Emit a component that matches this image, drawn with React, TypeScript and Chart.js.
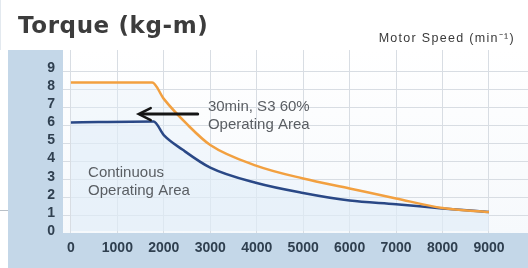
import React, { useEffect, useRef } from "react";
import { Chart, registerables } from "chart.js";

Chart.register(...registerables);

// ---- data ----
const speedTicks = [0, 1000, 2000, 3000, 4000, 5000, 6000, 7000, 8000, 9000];
const torqueTicks = [0, 1, 2, 3, 4, 5, 6, 7, 8, 9];

const speeds30 = [0, 1750, 2000, 2500, 3000, 4000, 5000, 6000, 7000, 8000, 9000];
const torque30 = [8.2, 8.2, 7.3, 5.9, 4.75, 3.6, 2.9, 2.35, 1.8, 1.27, 1.05];

const speedsCont = [0, 1780, 2000, 2400, 3000, 4000, 5000, 6000, 7000, 8000, 9000];
const torqueCont = [6.0, 6.05, 5.3, 4.5, 3.5, 2.65, 2.1, 1.68, 1.48, 1.25, 1.05];

const titleText = "Torque (kg-m)";
const xTitleText = "Motor Speed (min\u207B\u00B9)";
const label30 = ["30min, S3 60%", "Operating Area"];
const labelCont = ["Continuous", "Operating Area"];

// annotation anchors in data units
const arrowTail = { x: 2730, y: 6.46 };
const arrowHead = { x: 1460, y: 6.46 };
const label30At = { x: 2950, y: 6.85 };
const labelContAt = { x: 370, y: 3.2 };

const PANEL = "#c4d7e8";
const TICK = "#2f3f4f";
const GRID = "#d8dde3";

const decorPlugin = {
  id: "decor",
  beforeDraw(chart: any) {
    const { ctx, chartArea } = chart;
    const { left, top, right, bottom } = chartArea;
    ctx.save();
    ctx.fillStyle = "#ffffff";
    ctx.fillRect(0, 0, chart.width, chart.height);
    ctx.fillStyle = PANEL;
    ctx.fillRect(left - 55, top, chart.width - (left - 55), chart.height - top);
    const g = ctx.createLinearGradient(0, top, 0, bottom);
    g.addColorStop(0, "#ffffff");
    g.addColorStop(1, "#f6f9fc");
    ctx.fillStyle = g;
    ctx.fillRect(left, top, right - left, bottom - top);
    ctx.restore();
  },
  afterDatasetsDraw(chart: any) {
    const { ctx, scales } = chart;
    const xs = scales.x;
    const ys = scales.y;
    ctx.save();
    // arrow
    const x1 = xs.getPixelForValue(arrowTail.x);
    const x2 = xs.getPixelForValue(arrowHead.x);
    const y = ys.getPixelForValue(arrowTail.y);
    ctx.strokeStyle = "#151515";
    ctx.lineWidth = 3;
    ctx.lineCap = "round";
    ctx.beginPath();
    ctx.moveTo(x1, y);
    ctx.lineTo(x2 + 2, y);
    ctx.stroke();
    ctx.lineWidth = 2.5;
    ctx.beginPath();
    ctx.moveTo(x2 + 12, y - 6);
    ctx.lineTo(x2, y);
    ctx.lineTo(x2 + 12, y + 6);
    ctx.stroke();
    // labels
    ctx.fillStyle = "#5a5e63";
    ctx.font = "15px 'Liberation Sans', Arial, sans-serif";
    ctx.textBaseline = "middle";
    ctx.textAlign = "left";
    const lx = xs.getPixelForValue(label30At.x);
    const ly = ys.getPixelForValue(label30At.y);
    label30.forEach((t, i) => ctx.fillText(t, lx, ly + i * 18));
    const cx = xs.getPixelForValue(labelContAt.x);
    const cy = ys.getPixelForValue(labelContAt.y);
    labelCont.forEach((t, i) => ctx.fillText(t, cx, cy + i * 18));
    ctx.restore();
  },
};

export default function App() {
  const ref = useRef<HTMLCanvasElement | null>(null);

  useEffect(() => {
    if (!ref.current) return;
    const chart = new Chart(ref.current, {
      type: "line",
      data: {
        datasets: [
          {
            label: "30min, S3 60%",
            data: speeds30.map((s, i) => ({ x: s, y: torque30[i] })),
            borderColor: "#f2a040",
            backgroundColor: "rgba(226,237,248,0.35)",
            borderWidth: 2.5,
            pointRadius: 0,
            fill: "origin",
            cubicInterpolationMode: "monotone",
          },
          {
            label: "Continuous",
            data: speedsCont.map((s, i) => ({ x: s, y: torqueCont[i] })),
            borderColor: "#2a4886",
            backgroundColor: "rgba(222,234,246,0.45)",
            borderWidth: 2.5,
            pointRadius: 0,
            fill: "origin",
            cubicInterpolationMode: "monotone",
          },
        ],
      },
      options: {
        responsive: false,
        animation: false,
        devicePixelRatio: 1,
        layout: { padding: { top: 50, left: 0, right: 0, bottom: 0 } },
        plugins: {
          legend: { display: false },
          tooltip: { enabled: false },
          title: { display: false },
          filler: { drawTime: "beforeDatasetsDraw" },
        },
        scales: {
          x: {
            type: "linear",
            min: -170,
            max: 9840,
            afterBuildTicks: (s: any) => {
              s.ticks = speedTicks.map((v) => ({ value: v }));
            },
            afterFit: (s: any) => {
              s.height = 35;
            },
            grid: { color: GRID, drawTicks: false, lineWidth: 1 },
            border: { display: false },
            ticks: {
              padding: 7,
              color: TICK,
              font: { family: "'Liberation Sans', Arial, sans-serif", size: 14, weight: "bold" },
              maxRotation: 0,
              autoSkip: false,
              callback: (v: any) => String(v),
            },
          },
          y: {
            type: "linear",
            position: "left",
            min: -0.11,
            max: 10,
            afterBuildTicks: (s: any) => {
              s.ticks = torqueTicks.map((v) => ({ value: v }));
            },
            afterFit: (s: any) => {
              s.width = 63;
            },
            grid: { display: false, drawTicks: false },
            border: { display: false },
            ticks: {
              padding: 8,
              color: TICK,
              font: { family: "'Liberation Sans', Arial, sans-serif", size: 14, weight: "bold" },
              autoSkip: false,
              callback: (v: any) => String(v),
            },
          },
          yGrid: {
            type: "linear",
            position: "left",
            min: 0.06,
            max: 10.17,
            afterBuildTicks: (s: any) => {
              s.ticks = torqueTicks.filter((v) => v > 0).map((v) => ({ value: v }));
            },
            afterFit: (s: any) => {
              s.width = 0;
            },
            grid: { color: GRID, drawTicks: false, lineWidth: 1 },
            border: { display: false },
            ticks: { display: false },
          },
        },
      },
      plugins: [decorPlugin],
    } as any);
    return () => chart.destroy();
  }, []);

  return (
    <div
      style={{
        position: "fixed",
        left: 0,
        top: 0,
        width: 528,
        height: 268,
        background: "#ffffff",
        overflow: "hidden",
      }}
    >
      <canvas ref={ref} width={528} height={268} style={{ position: "absolute", left: 0, top: 0 }} />
      <div
        style={{
          position: "absolute",
          left: 0,
          top: 0,
          width: 1,
          height: 50,
          background: "#e3e9ef",
        }}
      />
      <div
        style={{
          position: "absolute",
          left: 0,
          top: 210,
          width: 8,
          height: 1,
          background: "#b9c0c7",
        }}
      />
      <div
        style={{
          position: "absolute",
          left: 18,
          top: 14,
          fontFamily: "'DejaVu Sans', sans-serif",
          fontWeight: "bold",
          fontSize: 23,
          lineHeight: 1,
          letterSpacing: 0.6,
          color: "#3c3c3c",
          whiteSpace: "nowrap",
        }}
      >
        {titleText}
      </div>
      <div
        style={{
          position: "absolute",
          right: 13,
          top: 32,
          fontFamily: "'Liberation Sans', Arial, sans-serif",
          fontSize: 12.5,
          lineHeight: 1,
          letterSpacing: 1.3,
          color: "#3a3a3a",
          whiteSpace: "nowrap",
        }}
      >
        {xTitleText}
      </div>
    </div>
  );
}
